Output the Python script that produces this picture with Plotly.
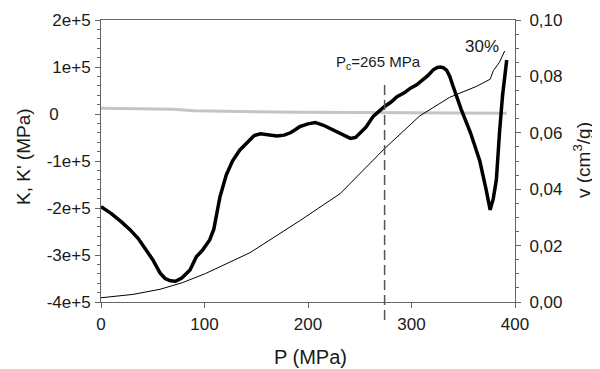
import plotly.graph_objects as go

# Thick line: K (MPa) vs P (MPa)
P_K = [0, 10, 20, 28, 36, 44, 50, 57, 62, 67, 72, 78, 86, 92, 98, 105, 109, 112, 115, 121,
       127, 134, 142, 148, 154, 162, 170, 177, 183, 188, 192, 200, 207, 215, 224, 234, 241,
       246, 250, 256, 263, 268, 274, 280, 286, 293, 299, 305, 311, 316, 321, 325, 328, 331,
       334, 337, 340, 348, 357, 366, 372, 376, 379, 382, 385, 388, 392]
K_vals = [-1.97e5, -2.12e5, -2.30e5, -2.46e5, -2.65e5, -2.89e5, -3.10e5, -3.38e5, -3.50e5,
          -3.55e5, -3.56e5, -3.49e5, -3.32e5, -3.04e5, -2.90e5, -2.68e5, -2.45e5, -2.10e5,
          -1.76e5, -1.30e5, -1.00e5, -0.77e5, -0.58e5, -0.46e5, -0.42e5, -0.44e5, -0.47e5,
          -0.45e5, -0.40e5, -0.33e5, -0.27e5, -0.21e5, -0.18e5, -0.24e5, -0.33e5, -0.45e5,
          -0.52e5, -0.50e5, -0.42e5, -0.28e5, -0.05e5, 0.05e5, 0.16e5, 0.25e5, 0.37e5,
          0.45e5, 0.55e5, 0.62e5, 0.72e5, 0.82e5, 0.94e5, 0.99e5, 1.00e5, 0.98e5, 0.93e5,
          0.80e5, 0.60e5, 0.10e5, -0.40e5, -1.00e5, -1.60e5, -2.04e5, -1.80e5, -1.40e5,
          -0.40e5, 0.40e5, 1.15e5]

# Gray line: K' (MPa) vs P
P_Kp = [0, 50, 70, 90, 130, 192, 250, 300, 350, 392]
Kp_vals = [0.12e5, 0.11e5, 0.10e5, 0.07e5, 0.05e5, 0.035e5, 0.03e5, 0.025e5, 0.025e5, 0.015e5]

# Thin line: v (cm3/g) vs P
P_v = [0, 31, 57, 79, 101, 144, 192, 231, 274, 308, 337, 363, 376, 379, 385, 390]
v_vals = [0.0015, 0.0027, 0.0045, 0.0069, 0.0101, 0.0175, 0.0288, 0.0384, 0.0544, 0.066,
          0.0726, 0.0765, 0.079, 0.082, 0.085, 0.089]

Pc_line = 274

left_ticks = [2e5, 1e5, 0, -1e5, -2e5, -3e5, -4e5]
left_labels = ["2e+5", "1e+5", "0\u2007\u2007\u2007\u2009", "-1e+5", "-2e+5", "-3e+5", "-4e+5"]
right_ticks = [0.0, 0.02, 0.04, 0.06, 0.08, 0.10]
right_labels = ["0,00", "0,02", "0,04", "0,06", "0,08", "0,10"]
x_ticks = [0, 100, 200, 300, 400]

FONT = "Liberation Sans, Arial, sans-serif"
AX = "#666666"
TXT = "#1a1a1a"

# page body has an 8px default margin: compensate
OFF = 8
W, H = 600 - OFF, 369 - OFF
PL, PR, PT, PB = 101, 515, 20, 302  # plot area in reference pixels
L = PL - OFF
T = PT - OFF
plot_w = PR - PL
plot_h = PB - PT
R = W - L - plot_w
B = H - T - plot_h


def px(x):
    return (x - PL) / plot_w


def py(y):
    return (PB - y) / plot_h


fig = go.Figure()
fig.add_trace(go.Scatter(x=P_Kp, y=Kp_vals, mode="lines",
                         line=dict(color="#c4c4c4", width=3), yaxis="y", showlegend=False))
fig.add_trace(go.Scatter(x=P_K, y=K_vals, mode="lines",
                         line=dict(color="black", width=3.5), yaxis="y", showlegend=False))
fig.add_trace(go.Scatter(x=P_v, y=v_vals, mode="lines",
                         line=dict(color="black", width=1), yaxis="y2", showlegend=False))

fig.add_shape(type="line", x0=Pc_line, x1=Pc_line, xref="x", yref="paper",
              y0=py(320), y1=py(83), line=dict(color="#555555", width=1.5, dash="10px,5px"))

fig.update_layout(
    width=W, height=H,
    margin=dict(l=L, r=R, t=T, b=B, autoexpand=False),
    paper_bgcolor="white", plot_bgcolor="white",
    font=dict(family=FONT, color=TXT, size=17),
    xaxis=dict(range=[0, 400], tickvals=x_ticks, ticks="outside", ticklen=5,
               tickcolor=AX, showline=True, linecolor=AX, linewidth=1, mirror=True,
               showgrid=False, zeroline=False, tickfont=dict(size=17), automargin=False,
               ticklabelstandoff=2),
    yaxis=dict(range=[-4e5, 2e5], tickvals=left_ticks, ticktext=left_labels,
               ticks="outside", ticklen=5, tickcolor=AX, showline=True, linecolor=AX,
               linewidth=1, showgrid=False, zeroline=False, tickfont=dict(size=17),
               minor=dict(dtick=2e4, ticks="outside", ticklen=3, tickcolor=AX),
               automargin=False, ticklabelstandoff=1),
    yaxis2=dict(range=[0, 0.10], tickvals=right_ticks, ticktext=right_labels,
                overlaying="y", side="right", ticks="outside", ticklen=5, tickcolor=AX,
                showline=True, linecolor=AX, linewidth=1, showgrid=False, zeroline=False,
                tickfont=dict(size=17), automargin=False, ticklabelstandoff=5,
                minor=dict(dtick=0.005, ticks="outside", ticklen=3, tickcolor=AX)),
)

ann = dict(xref="paper", yref="paper", showarrow=False, xanchor="center", yanchor="middle")

# Axis titles
fig.add_annotation(x=px(310), y=py(357), text="P (MPa)",
                   font=dict(size=20, color=TXT, family=FONT), **ann)
fig.add_annotation(x=px(23), y=py(157), text="K, K' (MPa)", textangle=-90,
                   font=dict(size=19, color=TXT, family=FONT), **ann)
fig.add_annotation(x=px(582), y=py(160), text="v (cm<sup>3</sup>/g)", textangle=-90,
                   font=dict(size=19, color=TXT, family=FONT), **ann)

# Labels
fig.add_annotation(x=px(378), y=py(62), text="P<sub>c</sub>=265 MPa",
                   font=dict(size=15, color=TXT, family=FONT), **ann)
fig.add_annotation(x=px(482), y=py(47), text="30%",
                   font=dict(size=17, color=TXT, family=FONT), **ann)

fig.write_html("out.html")
